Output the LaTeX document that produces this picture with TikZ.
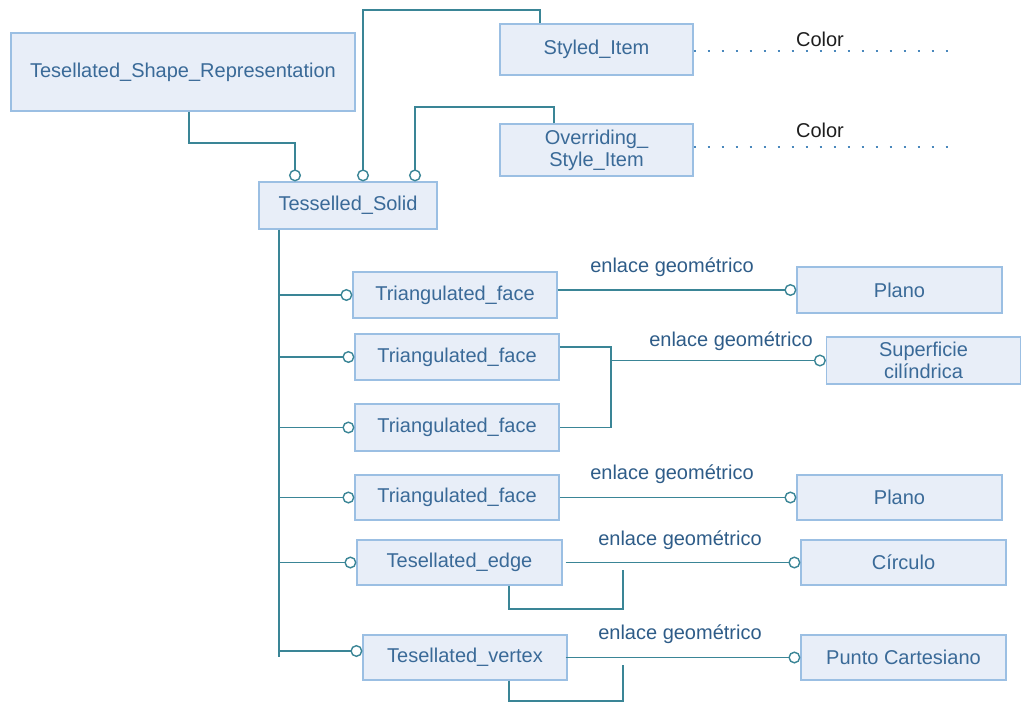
\documentclass[tikz,border=0pt]{standalone}
\usepackage{fontspec}
\setmainfont{Liberation Sans}
\usetikzlibrary{arrows.meta,calc}
\definecolor{boxfill}{HTML}{E8EEF8}
\definecolor{boxline}{HTML}{9BBFE3}
\definecolor{boxtext}{HTML}{3A6A98}
\definecolor{connc}{HTML}{3A8596}
\definecolor{lblc}{HTML}{2E5C88}
\definecolor{dotc}{HTML}{4A88BC}
\definecolor{colc}{HTML}{1E1E1E}
\begin{document}
\begin{tikzpicture}[x=1pt,y=-1pt,
  box/.style={draw=boxline, fill=boxfill, line width=1.2pt, text=boxtext, inner sep=0pt, align=center, font=\fontsize{20}{22}\selectfont},
  link/.style={draw=connc, line width=1.9pt},
  ring/.style={-{Circle[length=12pt,width=12pt,fill=white,line width=1.4pt]}},
  lbl/.style={text=lblc, inner sep=0pt, font=\fontsize{20}{22}\selectfont},
  collbl/.style={text=colc, inner sep=0pt, font=\fontsize{20}{22}\selectfont},
  dotline/.style={draw=dotc, line width=1.5pt, dash pattern=on 2pt off 12pt}]
\useasboundingbox (0,0) rectangle (1022,704);

% boxes
\node[box, minimum width=344pt, minimum height=78pt] (tsr) at (183,72) {Tesellated\_Shape\_Representation};
\node[box, minimum width=178pt, minimum height=47pt] (ts) at (348,205.5) {Tesselled\_Solid};
\node[box, minimum width=193pt, minimum height=51pt] (si) at (596.5,49.5) {Styled\_Item};
\node[box, minimum width=193pt, minimum height=52pt] (osi) at (596.5,150) {Overriding\_\\Style\_Item};
\node[box, minimum width=204pt, minimum height=46pt] (tf1) at (455,295) {Triangulated\_face};
\node[box, minimum width=204pt, minimum height=46pt] (tf2) at (457,357) {Triangulated\_face};
\node[box, minimum width=204pt, minimum height=47pt] (tf3) at (457,427.5) {Triangulated\_face};
\node[box, minimum width=204pt, minimum height=45pt] (tf4) at (457,497.5) {Triangulated\_face};
\node[box, minimum width=205pt, minimum height=45pt] (te) at (459.5,562.5) {Tesellated\_edge};
\node[box, minimum width=204pt, minimum height=45pt] (tv) at (465,657.5) {Tesellated\_vertex};
\node[box, minimum width=205pt, minimum height=46pt] (p1) at (899.5,290) {Plano};
\node[box, minimum width=194pt, minimum height=47pt] (sc) at (923.5,360.5) {Superficie\\cilíndrica};
\node[box, minimum width=205pt, minimum height=45pt] (p2) at (899.5,497.5) {Plano};
\node[box, minimum width=205pt, minimum height=45pt] (ci) at (903.5,562.5) {Círculo};
\node[box, minimum width=205pt, minimum height=45pt] (pc) at (903.5,657.5) {Punto Cartesiano};

% labels
\node[collbl] (c1) at (820,39) {Color};
\node[collbl] (c2) at (820,130) {Color};
\node[lbl] (l1) at (672,267) {enlace geométrico};
\node[lbl] (l2) at (731,341) {enlace geométrico};
\node[lbl] (l3) at (672,474) {enlace geométrico};
\node[lbl] (l4) at (680,540) {enlace geométrico};
\node[lbl] (l5) at (680,634) {enlace geométrico};

% dotted lines
\coordinate (d1) at (950,51);
\coordinate (d2) at (950,147);
\draw[dotline] (si.east |- d1) -- (d1);
\draw[dotline] (osi.east |- d2) -- (d2);

% top connectors
\coordinate (k1) at (189,143);
\coordinate (k2) at (295,143);
\draw[link, ring] (tsr.south -| k1) -- (k1) -- (k2) -- (k2 |- ts.north);
\coordinate (k3) at (540,10);
\coordinate (k4) at (363,10);
\draw[link, ring] (si.north -| k3) -- (k3) -- (k4) -- (k4 |- ts.north);
\coordinate (k5) at (554,107);
\coordinate (k6) at (415,107);
\draw[link, ring] (osi.north -| k5) -- (k5) -- (k6) -- (k6 |- ts.north);

% trunk
\coordinate (tt) at (279,229);
\coordinate (tb) at (279,657);
\draw[link] (ts.south -| tt) -- (tb);
\draw[link, ring] (tt |- tf1.west) -- (tf1.west);
\draw[link, ring] (tt |- tf2.west) -- (tf2.west);
\draw[link, ring] (tt |- tf3.west) -- (tf3.west);
\draw[link, ring] (tt |- tf4.west) -- (tf4.west);
\draw[link, ring] (tt |- te.west) -- (te.west);
\coordinate (tvw) at ($(tv.west)+(0,-6.5)$);
\draw[link, ring] (tt |- tvw) -- (tvw);

% right connectors
\draw[link, ring] (tf1.east |- p1.west) -- (p1.west);
\coordinate (br) at (611,347);
\draw[link] (tf2.east |- br) -- (br) -- (br |- tf3.east) -- (tf3.east);
\draw[link, ring] (br |- sc.west) -- (sc.west);
\draw[link, ring] (tf4.east) -- (p2.west);
\draw[link, ring] ($(te.east)+(3,0)$) -- (ci.west);
\draw[link, ring] ($(tv.east)+(-2,0)$) -- (pc.west);

% brackets
\coordinate (e1) at (509,609);
\coordinate (e2) at (623,609);
\coordinate (e3) at (623,570);
\draw[link] (te.south -| e1) -- (e1) -- (e2) -- (e3);
\coordinate (v1) at (509,701);
\coordinate (v2) at (623,701);
\coordinate (v3) at (623,665);
\draw[link] (tv.south -| v1) -- (v1) -- (v2) -- (v3);
\end{tikzpicture}
\end{document}
